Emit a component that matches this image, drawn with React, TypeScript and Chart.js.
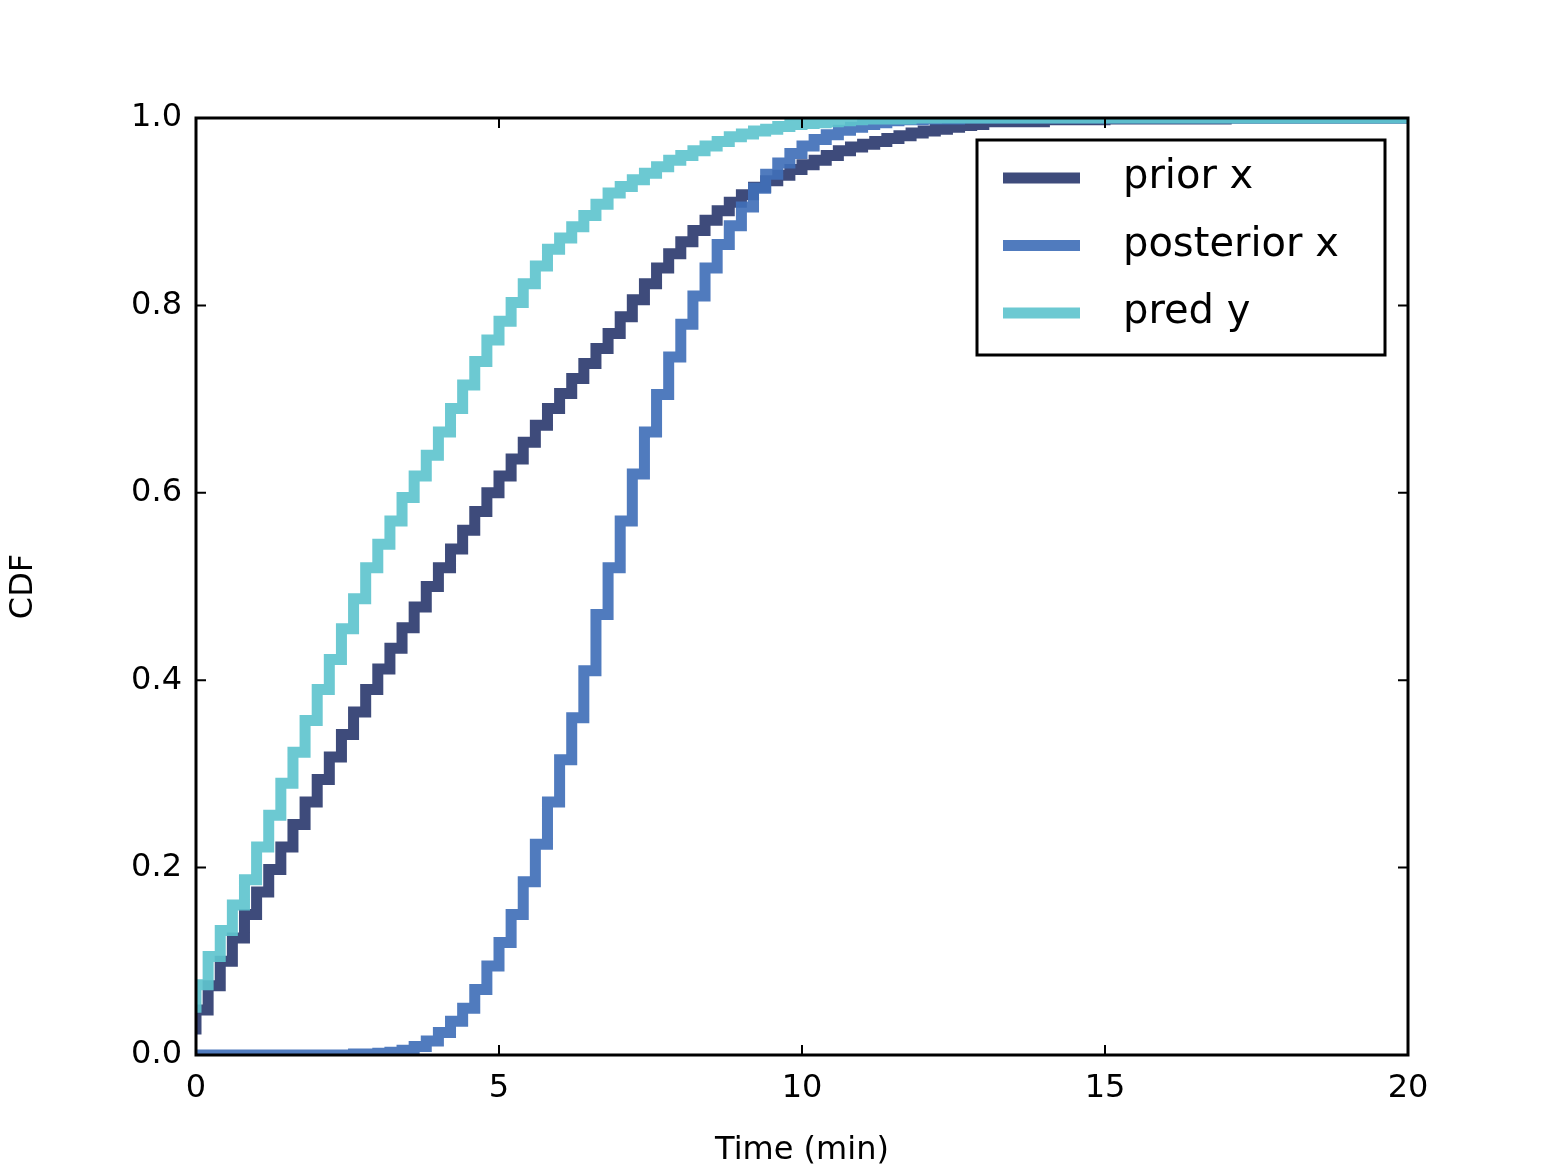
import { useEffect, useRef } from 'react';
import { Chart, registerables, type Plugin } from 'chart.js';

Chart.register(...registerables);

const times = [
  0, 0.2, 0.4, 0.6, 0.8, 1, 1.2, 1.4, 1.6, 1.8, 2, 2.2, 2.4, 2.6, 2.8, 3, 3.2, 3.4, 3.6, 3.8,
  4, 4.2, 4.4, 4.6, 4.8, 5, 5.2, 5.4, 5.6, 5.8, 6, 6.2, 6.4, 6.6, 6.8, 7, 7.2, 7.4, 7.6, 7.8,
  8, 8.2, 8.4, 8.6, 8.8, 9, 9.2, 9.4, 9.6, 9.8, 10, 10.2, 10.4, 10.6, 10.8, 11, 11.2, 11.4, 11.6, 11.8,
  12, 12.2, 12.4, 12.6, 12.8, 13, 14, 15, 16, 17, 18, 19, 20,
];

const priorX = [
  0.022, 0.048, 0.074, 0.1, 0.125, 0.15, 0.174, 0.198, 0.222, 0.246, 0.27, 0.294, 0.318, 0.342, 0.366, 0.39, 0.412, 0.434, 0.456, 0.478,
  0.5, 0.52, 0.54, 0.56, 0.58, 0.6, 0.618, 0.636, 0.654, 0.672, 0.69, 0.706, 0.722, 0.738, 0.754, 0.77, 0.788, 0.806, 0.823, 0.84,
  0.855, 0.868, 0.88, 0.891, 0.901, 0.91, 0.918, 0.926, 0.933, 0.939, 0.945, 0.95, 0.955, 0.96, 0.965, 0.969, 0.972, 0.975, 0.978, 0.981,
  0.984, 0.986, 0.988, 0.99, 0.992, 0.993, 0.996, 0.998, 0.999, 0.999, 1, 1, 1,
];

const posteriorX = [
  0, 0, 0, 0, 0, 0, 0, 0, 0, 0, 0, 0, 0, 0, 0.001, 0.001, 0.002, 0.003, 0.005, 0.009,
  0.015, 0.024, 0.036, 0.05, 0.07, 0.095, 0.12, 0.15, 0.185, 0.225, 0.27, 0.315, 0.36, 0.41, 0.47, 0.52, 0.57, 0.62, 0.665, 0.705,
  0.745, 0.78, 0.81, 0.84, 0.865, 0.885, 0.905, 0.925, 0.94, 0.952, 0.962, 0.97, 0.977, 0.982, 0.987, 0.99, 0.993, 0.995, 0.997, 0.998,
  0.998, 0.999, 0.999, 0.999, 1, 1, 1, 1, 1, 1, 1, 1, 1,
];

const predY = [
  0.045, 0.075, 0.105, 0.133, 0.16, 0.187, 0.222, 0.256, 0.29, 0.323, 0.357, 0.39, 0.422, 0.455, 0.487, 0.52, 0.545, 0.57, 0.595, 0.618,
  0.64, 0.665, 0.69, 0.715, 0.74, 0.763, 0.783, 0.803, 0.823, 0.842, 0.86, 0.872, 0.884, 0.896, 0.908, 0.92, 0.927, 0.934, 0.941, 0.948,
  0.955, 0.96, 0.965, 0.97, 0.975, 0.98, 0.983, 0.986, 0.988, 0.991, 0.993, 0.994, 0.995, 0.996, 0.997, 0.998, 0.999, 0.999, 0.999, 0.999,
  1, 1, 1, 1, 1, 1, 1, 1, 1, 1, 1, 1, 1,
];

const xTicks = [0, 5, 10, 15, 20];
const yTicks = [0, 0.2, 0.4, 0.6, 0.8, 1];

const seriesNames = ['prior x', 'posterior x', 'pred y'];
const seriesColors = ['rgba(46,60,112,0.92)', 'rgba(65,112,184,0.92)', 'rgba(96,196,206,0.92)'];

const font = 'DejaVu Sans';

// matplotlib-style frame, inward ticks and legend box
const framePlugin: Plugin<'line'> = {
  id: 'frame',
  afterDraw(chart) {
    const { ctx, chartArea: a, scales } = chart;
    ctx.save();
    ctx.strokeStyle = '#000';
    ctx.lineWidth = 3;
    ctx.strokeRect(a.left, a.top, a.right - a.left, a.bottom - a.top);
    ctx.lineWidth = 2;
    ctx.beginPath();
    for (const t of xTicks) {
      const px = scales.x.getPixelForValue(t);
      ctx.moveTo(px, a.bottom); ctx.lineTo(px, a.bottom - 10);
      ctx.moveTo(px, a.top); ctx.lineTo(px, a.top + 10);
    }
    for (const t of yTicks) {
      const py = scales.y.getPixelForValue(t);
      ctx.moveTo(a.left, py); ctx.lineTo(a.left + 10, py);
      ctx.moveTo(a.right, py); ctx.lineTo(a.right - 10, py);
    }
    ctx.stroke();

    // legend
    const lx = a.right - 431, ly = a.top + 22;
    ctx.fillStyle = '#fff';
    ctx.fillRect(lx, ly, 408, 215);
    ctx.lineWidth = 3;
    ctx.strokeRect(lx, ly, 408, 215);
    ctx.font = `40px "${font}"`;
    ctx.textBaseline = 'middle';
    seriesNames.forEach((name, i) => {
      const y = ly + 38 + i * 67.5;
      ctx.strokeStyle = seriesColors[i];
      ctx.lineWidth = 11;
      ctx.beginPath();
      ctx.moveTo(lx + 26, y); ctx.lineTo(lx + 103, y);
      ctx.stroke();
      ctx.fillStyle = '#000';
      ctx.fillText(name, lx + 146, y);
    });
    ctx.restore();
  },
};

export default function App() {
  const canvasRef = useRef<HTMLCanvasElement | null>(null);

  useEffect(() => {
    document.body.style.margin = '0';
    if (!canvasRef.current) return;
    const series = [priorX, posteriorX, predY];
    const chart = new Chart(canvasRef.current, {
      type: 'line',
      data: {
        datasets: series.map((vals, i) => ({
          label: seriesNames[i],
          data: times.map((t, j) => ({ x: t, y: vals[j] })),
          borderColor: seriesColors[i],
          borderWidth: 11,
          pointRadius: 0,
          stepped: 'after' as const,
          fill: false,
          order: 3 - i,
        })),
      },
      options: {
        animation: false,
        responsive: false,
        devicePixelRatio: 1,
        layout: { padding: { top: 118, right: 157, left: 0, bottom: 0 } },
        plugins: { legend: { display: false }, tooltip: { enabled: false } },
        scales: {
          x: {
            type: 'linear',
            min: 0,
            max: 20,
            grid: { display: false },
            border: { display: false },
            afterFit: (s) => { s.height = 119; },
            afterBuildTicks: (s) => { s.ticks = xTicks.map((v) => ({ value: v })); },
            ticks: { color: '#000', font: { family: font, size: 32 }, padding: 6 },
            title: { display: true, text: 'Time (min)', color: '#000', font: { family: font, size: 32 }, padding: { top: 0 } },
          },
          y: {
            min: 0,
            max: 1,
            grid: { display: false },
            border: { display: false },
            afterFit: (s) => { s.width = 196; },
            afterBuildTicks: (s) => { s.ticks = yTicks.map((v) => ({ value: v })); },
            ticks: {
              color: '#000',
              font: { family: font, size: 32 },
              padding: 6,
              callback: (v) => Number(v).toFixed(1),
            },
            title: { display: true, text: 'CDF', color: '#000', font: { family: font, size: 32 }, padding: { bottom: 40 } },
          },
        },
      },
      plugins: [framePlugin],
    });
    return () => chart.destroy();
  }, []);

  return <canvas ref={canvasRef} width={1565} height={1174} style={{ width: 1565, height: 1174, display: 'block' }} />;
}
